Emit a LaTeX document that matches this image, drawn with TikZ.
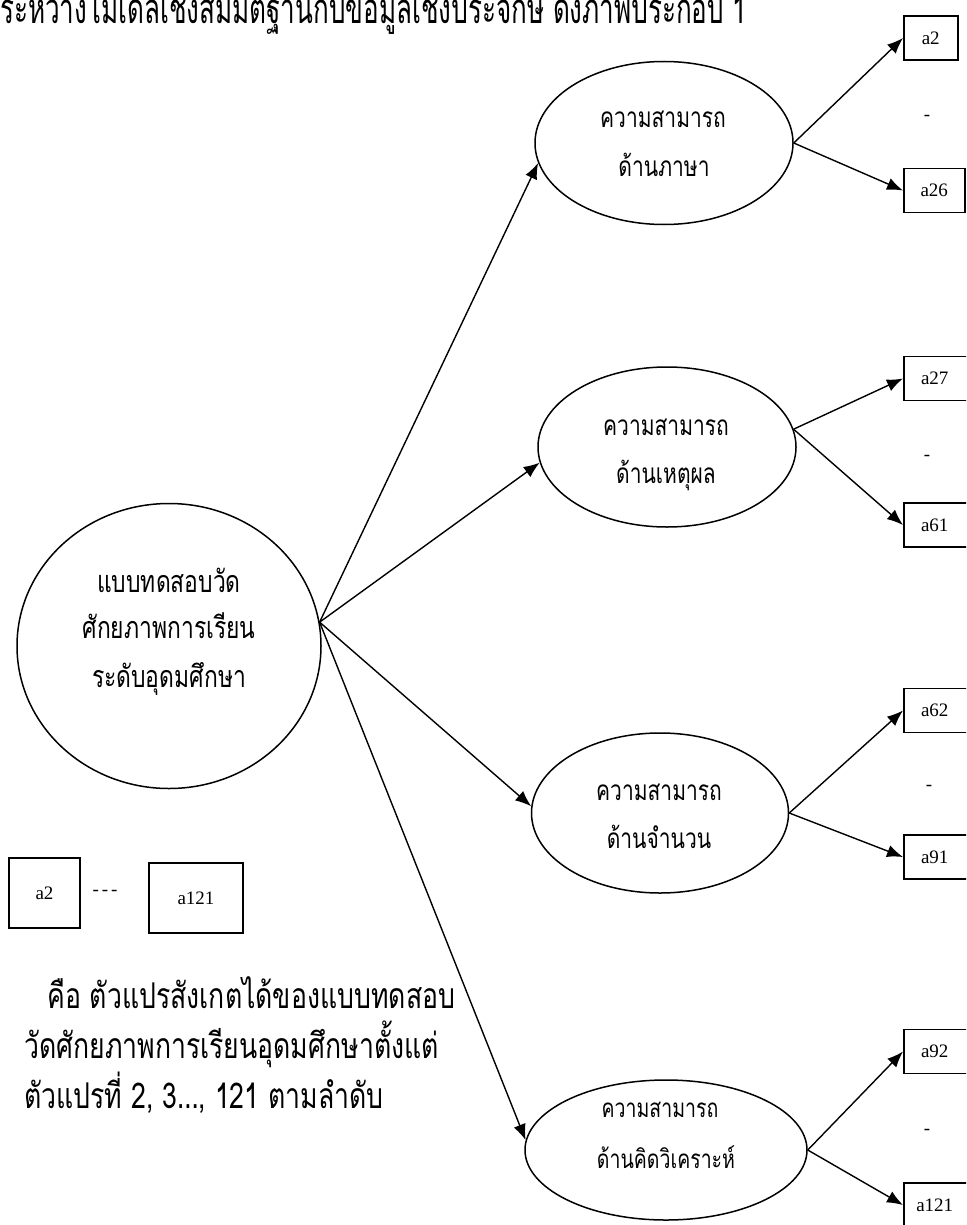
\documentclass[tikz,border=0pt]{standalone}
\usepackage{fontspec}
\setmainfont{Liberation Serif}
\newfontfamily\thai[Script=Thai,FakeStretch=0.75]{Loma}
\newfontfamily\thaitop[Script=Thai,FakeStretch=0.62]{Loma}
\usetikzlibrary{arrows.meta,shapes.geometric}
\begin{document}
\begin{tikzpicture}[x=1pt,y=-1pt,
  lat/.style={draw,ellipse,line width=1.5pt,inner sep=0pt},
  obs/.style={draw,rectangle,line width=1.5pt,inner sep=0pt,anchor=west,minimum height=44pt,minimum width=66pt,font=\fontsize{19}{19}\selectfont},
  arr/.style={line width=1.4pt,-{Latex[length=16pt,width=12.5pt]}},
  th/.style={font=\thai\fontsize{28}{28}\selectfont,inner sep=0pt,anchor=base},
  thm/.style={font=\thai\fontsize{30.5}{30.5}\selectfont,inner sep=0pt,anchor=base},
  thl/.style={font=\thai\fontsize{35.5}{35.5}\selectfont,inner sep=0pt,anchor=base west},
  dsh/.style={inner sep=0pt,font=\fontsize{19}{19}\selectfont}
]
\useasboundingbox (0,0) rectangle (966,1225);
\clip (0,0) rectangle (966,1225);
\fill[white] (0,0) rectangle (966,1225);

% top text
\node[thl,font=\thaitop\fontsize{42}{42}\selectfont] (top) at (0,24) {ระหว่างโมเดลเชิงสมมติฐานกับข้อมูลเชิงประจักษ์ ดังภาพประกอบ 1};

% main latent
\node[lat,minimum width=304pt,minimum height=285pt] (M) at (169,646) {};
\node[thm] (m1) at (169,592) {แบบทดสอบวัด};
\node[thm] (m2) at (169,638) {ศักยภาพการเรียน};
\node[thm] (m3) at (169,687) {ระดับอุดมศึกษา};
\coordinate (fan) at (M.9);

% sub latents
\node[lat,minimum width=258pt,minimum height=163pt] (E1) at (664,143) {};
\node[th] (e1a) at (663,128) {ความสามารถ};
\node[th] (e1b) at (664,177) {ด้านภาษา};

\node[lat,minimum width=258pt,minimum height=160pt] (E2) at (667,447) {};
\node[th] (e2a) at (666,435) {ความสามารถ};
\node[th] (e2b) at (666,483) {ด้านเหตุผล};

\node[lat,minimum width=257pt,minimum height=160pt] (E3) at (660,813) {};
\node[th] (e3a) at (659,800) {ความสามารถ};
\node[th] (e3b) at (659,848) {ด้านจำนวน};

\node[lat,minimum width=282pt,minimum height=140pt] (E4) at (666,1150) {};
\node[th,font=\thai\fontsize{26}{26}\selectfont] (e4a) at (660,1117) {ความสามารถ};
\node[th,font=\thai\fontsize{26}{26}\selectfont] (e4b) at (666,1168) {ด้านคิดวิเคราะห์};

% observed boxes
\node[obs,minimum width=54pt] (a2) at (903,38) {a2};
\node[obs,minimum width=61pt] (a26) at (903,190.5) {a26};
\node[obs] (a27) at (903,378.5) {\hspace*{-4pt}a27};
\node[obs] (a61) at (903,525) {\hspace*{-4pt}a61};
\node[obs] (a62) at (903,710.5) {\hspace*{-4pt}a62};
\node[obs] (a91) at (903,857) {\hspace*{-4pt}a91};
\node[obs] (a92) at (903,1051.5) {\hspace*{-4pt}a92};
\node[obs] (a121) at (903,1205) {\hspace*{-4pt}a121};

\node[dsh] (d1) at (927,118) {-};
\node[dsh] (d2) at (927,458) {-};
\node[dsh] (d3) at (929,788) {-};
\node[dsh] (d4) at (927,1132) {-};

% arrows from main
\draw[arr] (fan) -- (E1.189);
\draw[arr] (fan) -- (E2.187);
\draw[arr] (fan) -- (E3.177);
\draw[arr] (fan) -- (E4.176);

% arrows to indicators
\draw[arr] (E1.east) -- (a2.west);
\draw[arr] (E1.east) -- (a26.west);
\draw[arr] (E2.8) -- (a27.west);
\draw[arr] (E2.8) -- (a61.west);
\draw[arr] (E3.east) -- (a62.west);
\draw[arr] (E3.east) -- (a91.west);
\draw[arr] (E4.east) -- (a92.west);
\draw[arr] (E4.east) -- (a121.west);

% legend
\node[draw,line width=1.5pt,minimum width=71pt,minimum height=70pt,inner sep=0pt,font=\fontsize{19}{19}\selectfont] (L1) at (44.5,893) {a2};
\node[dsh] (Ld) at (105,893) {-\kern3pt-\kern3pt-};
\node[draw,line width=1.5pt,minimum width=94pt,minimum height=70pt,inner sep=0pt,font=\fontsize{19}{19}\selectfont] (L2) at (196,898) {a121};

\node[thl] (t1) at (47,1008) {คือ ตัวแปรสังเกตได้ของแบบทดสอบ};
\node[thl] (t2) at (24,1058) {วัดศักยภาพการเรียนอุดมศึกษาตั้งแต่};
\node[thl] (t3) at (24,1108) {ตัวแปรที่  2, 3…, 121  ตามลำดับ};
\end{tikzpicture}
\end{document}
